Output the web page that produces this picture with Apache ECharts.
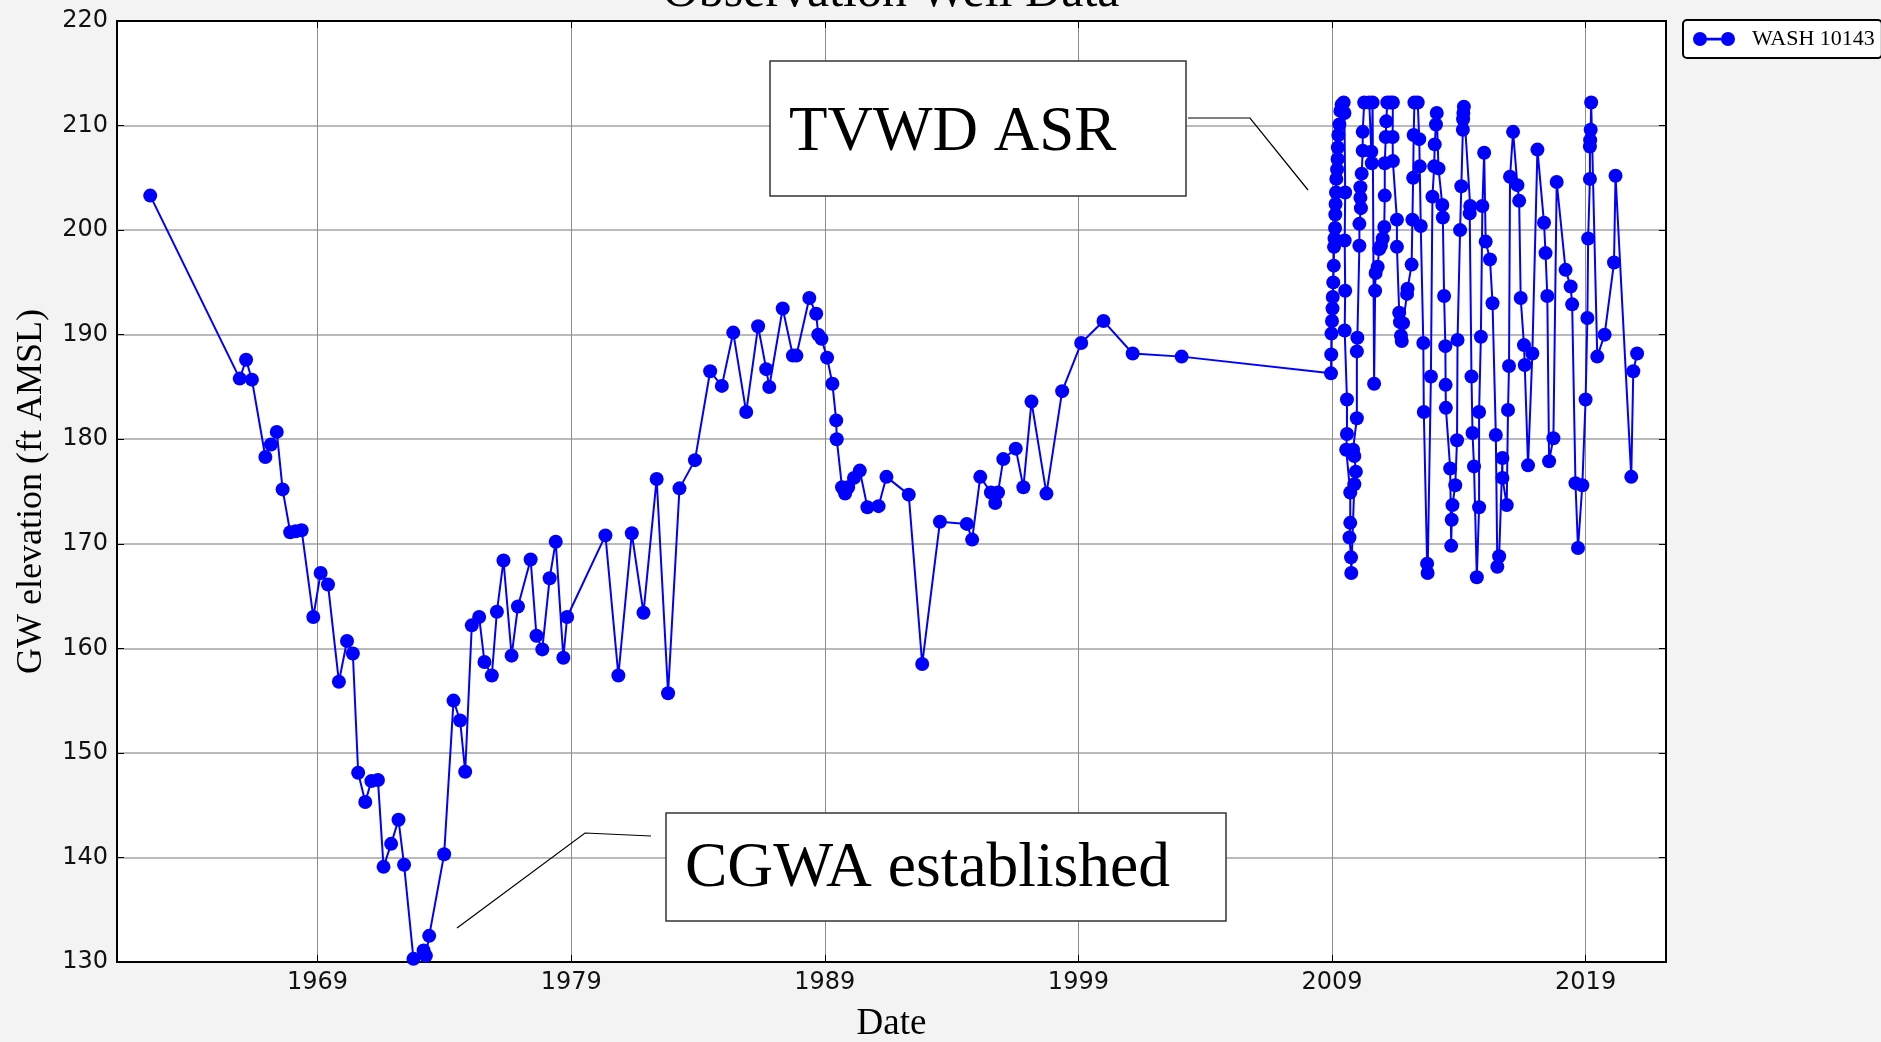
<!DOCTYPE html>
<html>
<head>
<meta charset="utf-8">
<title>Observation Well Data</title>
<script src="https://cdn.jsdelivr.net/npm/echarts@6/dist/echarts.min.js"></script>
<style>
html, body { margin: 0; padding: 0; background: #f3f3f3; }
#chart { width: 1881px; height: 1042px; }
</style>
</head>
<body>
<div id="chart"></div>
<script>
// WASH 10143 - GW elevation (ft AMSL), dates as decimal years
var histYears = [1962.40, 1965.93, 1966.18, 1966.41, 1966.94, 1967.16, 1967.39, 1967.62, 1967.92, 1968.14,
  1968.37, 1968.83, 1969.12, 1969.41, 1969.84, 1970.16, 1970.39, 1970.60, 1970.88, 1971.12,
  1971.38, 1971.60, 1971.90, 1972.19, 1972.41, 1972.78, 1973.18, 1973.27, 1973.40, 1973.99,
  1974.36, 1974.62, 1974.82, 1975.08, 1975.37, 1975.58, 1975.87, 1976.07, 1976.33, 1976.65,
  1976.90, 1977.40, 1977.63, 1977.86, 1978.15, 1978.39, 1978.69, 1978.84, 1980.35, 1980.86,
  1981.39, 1981.85, 1982.37, 1982.82, 1983.27, 1983.88, 1984.48, 1984.94, 1985.39, 1985.90,
  1986.37, 1986.69, 1986.81, 1987.34, 1987.74, 1987.88, 1988.39, 1988.66, 1988.74, 1988.87,
  1989.09, 1989.30, 1989.45, 1989.47, 1989.68, 1989.80, 1989.92, 1990.15, 1990.38, 1990.68,
  1991.12, 1991.43, 1992.31, 1992.84, 1993.54, 1994.60, 1994.81, 1995.13, 1995.55, 1995.72,
  1995.83, 1996.04, 1996.53, 1996.83, 1997.15, 1997.74, 1998.36, 1999.11, 1999.99, 2001.14,
  2003.07];
var histLevels = [203.3, 185.8, 187.6, 185.7, 178.3, 179.5, 180.7, 175.2, 171.1, 171.2,
  171.3, 163.0, 167.2, 166.1, 156.8, 160.7, 159.5, 148.1, 145.3, 147.3,
  147.4, 139.1, 141.3, 143.6, 139.3, 130.3, 131.1, 130.6, 132.5, 140.3,
  155.0, 153.1, 148.2, 162.2, 163.0, 158.7, 157.4, 163.5, 168.4, 159.3,
  164.0, 168.5, 161.2, 159.9, 166.7, 170.2, 159.1, 163.0, 170.8, 157.4,
  171.0, 163.4, 176.2, 155.7, 175.3, 178.0, 186.5, 185.1, 190.2, 182.6,
  190.8, 186.7, 185.0, 192.5, 188.0, 188.0, 193.5, 192.0, 190.0, 189.6,
  187.8, 185.3, 181.8, 180.0, 175.4, 174.8, 175.4, 176.3, 177.0, 173.5,
  173.6, 176.4, 174.7, 158.5, 172.1, 171.9, 170.4, 176.4, 174.9, 173.9,
  174.9, 178.1, 179.1, 175.4, 183.6, 174.8, 184.6, 189.2, 191.3, 188.2,
  187.9];

// ASR period (dense monitoring)
var asrYears = [2008.96, 2008.97, 2008.98, 2009.00, 2009.02, 2009.03, 2009.05, 2009.07, 2009.08, 2009.10,
  2009.12, 2009.13, 2009.14, 2009.16, 2009.17, 2009.20, 2009.22, 2009.23, 2009.25, 2009.29,
  2009.33, 2009.38, 2009.46, 2009.49, 2009.52, 2009.50, 2009.52, 2009.50, 2009.59, 2009.59,
  2009.56, 2009.72, 2009.72, 2009.69, 2009.75, 2009.76, 2009.88, 2009.94, 2009.88, 2009.83,
  2009.98, 2009.98, 2010.00, 2010.08, 2010.08, 2010.14, 2010.12, 2010.12, 2010.17, 2010.21,
  2010.21, 2010.27, 2010.47, 2010.55, 2010.57, 2010.60, 2010.66, 2010.70, 2010.72, 2010.80,
  2010.86, 2010.93, 2011.00, 2011.06, 2011.08, 2011.08, 2011.12, 2011.14, 2011.18, 2011.30,
  2011.40, 2011.39, 2011.40, 2011.56, 2011.56, 2011.65, 2011.68, 2011.72, 2011.75, 2011.80,
  2011.96, 2011.98, 2012.14, 2012.17, 2012.20, 2012.22, 2012.25, 2012.38, 2012.44, 2012.46,
  2012.50, 2012.60, 2012.62, 2012.75, 2012.77, 2012.90, 2012.96, 2013.03, 2013.05, 2013.10,
  2013.13, 2013.20, 2013.35, 2013.37, 2013.42, 2013.47, 2013.48, 2013.49, 2013.66, 2013.70,
  2013.72, 2013.75, 2013.86, 2013.93, 2013.95, 2014.05, 2014.10, 2014.16, 2014.17, 2014.18,
  2014.20, 2014.45, 2014.43, 2014.50, 2014.54, 2014.60, 2014.71, 2014.80, 2014.80, 2014.87,
  2014.93, 2015.00, 2015.06, 2015.23, 2015.33, 2015.46, 2015.52, 2015.59, 2015.72, 2015.72,
  2015.89, 2015.94, 2015.98, 2016.02, 2016.14, 2016.31, 2016.38, 2016.44, 2016.57, 2016.60,
  2016.73, 2016.90, 2017.10, 2017.36, 2017.42, 2017.49, 2017.56, 2017.73, 2017.86, 2018.21,
  2018.41, 2018.47, 2018.60, 2018.70, 2018.87, 2019.00, 2019.07, 2019.10, 2019.17, 2019.17,
  2019.18, 2019.20, 2019.22, 2019.46, 2019.75, 2020.12, 2020.18, 2020.80, 2020.88, 2021.03];
var asrLevels = [186.3, 188.1, 190.1, 191.3, 192.5, 193.6, 195.0, 196.6, 198.4, 199.2,
  200.2, 201.5, 202.5, 203.6, 204.9, 205.8, 206.8, 207.9, 209.1, 210.1,
  211.4, 212.0, 212.2, 211.2, 203.6, 199.0, 194.2, 190.4, 183.8, 180.5,
  179.0, 174.9, 172.0, 170.6, 168.7, 167.2, 175.7, 176.9, 178.4, 179.0,
  182.0, 188.4, 189.7, 198.5, 200.6, 202.1, 203.1, 204.1, 205.4, 207.6,
  209.4, 212.2, 212.2, 207.5, 206.4, 212.2, 185.3, 194.2, 195.9, 196.5,
  198.2, 198.5, 199.2, 200.3, 203.3, 206.4, 208.9, 210.4, 212.2, 212.2,
  212.2, 208.9, 206.6, 201.0, 198.4, 192.1, 191.2, 189.9, 189.4, 191.1,
  193.9, 194.4, 196.7, 201.0, 205.0, 209.1, 212.2, 212.2, 208.7, 206.1,
  200.4, 189.2, 182.6, 168.1, 167.2, 186.0, 203.2, 206.1, 208.2, 210.1,
  211.2, 205.9, 202.4, 201.2, 193.7, 188.9, 185.2, 183.0, 177.2, 169.8,
  172.3, 173.7, 175.6, 179.9, 189.5, 200.0, 204.2, 209.6, 210.6, 211.2,
  211.8, 202.3, 201.6, 186.0, 180.6, 177.4, 166.8, 173.5, 182.6, 189.8,
  202.3, 207.4, 198.9, 197.2, 193.0, 180.4, 167.8, 168.8, 178.2, 176.3,
  173.7, 182.8, 187.0, 205.1, 209.4, 204.3, 202.8, 193.5, 189.0, 187.1,
  177.5, 188.2, 207.7, 200.7, 197.8, 193.7, 177.9, 180.1, 204.6, 196.2,
  194.6, 192.9, 175.8, 169.6, 175.6, 183.8, 191.6, 199.2, 204.9, 208.0,
  208.6, 209.6, 212.2, 187.9, 190.0, 196.9, 205.2, 176.4, 186.5, 188.2];

var seriesName = "WASH 10143";
var chartTitle = "Observation Well Data";
var yMin = 130, yMax = 220, yStep = 10;
var xStart = 1961.09, xEnd = 2022.17;
// x values are shifted so the automatic ticks fall on 1969, 1979, ...
var YEAR_BASE = 1959;

var points = [];
histYears.forEach(function (y, i) { points.push([y - YEAR_BASE, histLevels[i]]); });
asrYears.forEach(function (y, i) { points.push([y - YEAR_BASE, asrLevels[i]]); });

var blue = "#0000ff";
var serif = '"Liberation Serif", "Times New Roman", serif';
// two dots joined by a line (all sub-paths wound the same way)
var legendIcon = "path://M0,7a7,7 0 1,0 14,0a7,7 0 1,0 -14,0zM28,7a7,7 0 1,0 14,0a7,7 0 1,0 -14,0zM7,5.7L7,8.5L35,8.5L35,5.7z";

var myChart = echarts.init(document.getElementById("chart"), null, { renderer: "canvas" });

var option = {
  backgroundColor: "#f3f3f3",
  animation: false,
  textStyle: { fontFamily: "DejaVu Sans" },
  grid: {
    left: 117, right: 215, top: 21, bottom: 80,
    show: true, backgroundColor: "#fff", borderColor: "#000", borderWidth: 2,
    containLabel: false, outerBoundsMode: "none"
  },
  legend: {
    data: [{ name: seriesName, icon: legendIcon }],
    left: 1683, top: 20,
    orient: "vertical",
    itemWidth: 42, itemHeight: 14,
    padding: [8, 7, 8, 10],
    backgroundColor: "#fff",
    borderColor: "#000", borderWidth: 2, borderRadius: 4,
    selectedMode: false,
    itemStyle: { color: blue },
    textStyle: { fontFamily: serif, fontSize: 22, color: "#000", padding: [0, 0, 0, 12] }
  },
  xAxis: [{
    type: "value",
    min: xStart - YEAR_BASE, max: xEnd - YEAR_BASE, splitNumber: 6,
    name: "Date", nameLocation: "middle", nameGap: 44,
    nameTextStyle: { fontFamily: serif, fontSize: 37, color: "#000" },
    axisLine: { show: true, onZero: false, lineStyle: { color: "#000", width: 2 } },
    axisTick: { show: true, inside: true, length: 7, lineStyle: { color: "#000", width: 1 } },
    axisLabel: {
      showMinLabel: false, showMaxLabel: false, margin: 9,
      fontSize: 24, color: "#111", fontFamily: "DejaVu Sans",
      formatter: function (v) { return String(Math.round(v + YEAR_BASE)); }
    },
    splitLine: { show: true, lineStyle: { color: "#8c8c8c", width: 1 } }
  }, {
    type: "value", position: "top",
    min: xStart - YEAR_BASE, max: xEnd - YEAR_BASE, splitNumber: 6,
    axisLine: { show: true, onZero: false, lineStyle: { color: "#000", width: 2 } },
    axisTick: { show: true, inside: true, length: 7, lineStyle: { color: "#000", width: 1 } },
    axisLabel: { show: false },
    splitLine: { show: false }
  }],
  yAxis: [{
    type: "value",
    min: yMin, max: yMax, interval: yStep,
    name: "GW elevation (ft AMSL)", nameLocation: "middle", nameRotate: 90, nameGap: 67,
    nameTextStyle: { fontFamily: serif, fontSize: 36, color: "#000" },
    axisLine: { show: true, onZero: false, lineStyle: { color: "#000", width: 2 } },
    axisTick: { show: true, inside: true, length: 7, lineStyle: { color: "#000", width: 1 } },
    axisLabel: { margin: 9, fontSize: 24, color: "#111", fontFamily: "DejaVu Sans" },
    splitLine: { show: true, lineStyle: { color: "#a3a3a3", width: 1.6 } }
  }, {
    type: "value", position: "right",
    min: yMin, max: yMax, interval: yStep,
    axisLine: { show: true, onZero: false, lineStyle: { color: "#000", width: 2 } },
    axisTick: { show: true, inside: true, length: 7, lineStyle: { color: "#000", width: 1 } },
    axisLabel: { show: false },
    splitLine: { show: false }
  }],
  series: [{
    name: seriesName,
    type: "line",
    xAxisIndex: 0, yAxisIndex: 0,
    data: points,
    symbol: "circle", symbolSize: 14,
    showSymbol: true, showAllSymbol: true,
    itemStyle: { color: blue },
    lineStyle: { color: blue, width: 2 },
    emphasis: { disabled: true },
    silent: true,
    z: 3
  }],
  graphic: [
    {
      type: "text", x: 891, y: -7, z: 100,
      style: { text: chartTitle, font: "50px " + serif, fill: "#000",
        align: "center", verticalAlign: "middle", textAlign: "center", textVerticalAlign: "middle" }
    },
    {
      type: "rect", z: 100,
      shape: { x: 770, y: 61, width: 416, height: 135 },
      style: { fill: "#fff", stroke: "#333", lineWidth: 1.5 }
    },
    {
      type: "text", x: 789, y: 133, z: 101,
      style: { text: "TVWD ASR", font: "63px " + serif, fill: "#000",
        align: "left", verticalAlign: "middle", textAlign: "left", textVerticalAlign: "middle" }
    },
    {
      type: "polyline", z: 100,
      shape: { points: [[1188, 118], [1250, 118], [1308, 190]] },
      style: { stroke: "#000", lineWidth: 1.2, fill: null }
    },
    {
      type: "rect", z: 100,
      shape: { x: 666, y: 813, width: 560, height: 108 },
      style: { fill: "#fff", stroke: "#333", lineWidth: 1.5 }
    },
    {
      type: "text", x: 685, y: 869, z: 101,
      style: { text: "CGWA established", font: "63.5px " + serif, fill: "#000",
        align: "left", verticalAlign: "middle", textAlign: "left", textVerticalAlign: "middle" }
    },
    {
      type: "polyline", z: 100,
      shape: { points: [[651, 836], [585, 833], [457, 928]] },
      style: { stroke: "#000", lineWidth: 1.2, fill: null }
    }
  ]
};

myChart.setOption(option);
window.addEventListener("resize", function () {
  myChart.resize();
});
</script>
</body>
</html>
